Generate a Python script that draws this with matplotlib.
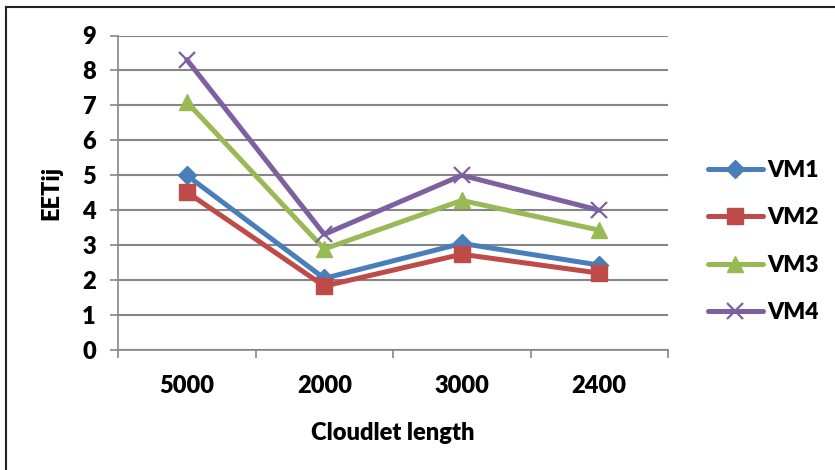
import numpy as np
import matplotlib.pyplot as plt
from matplotlib.lines import Line2D

plt.rcParams['font.family'] = ['Lato', 'DejaVu Sans']
plt.rcParams['font.weight'] = 'heavy'

# Cloudlet lengths and EETij per VM
cloudlets = ["5000", "2000", "3000", "2400"]
vm1 = [5.0, 2.05, 3.05, 2.43]
vm2 = [4.52, 1.83, 2.74, 2.2]
vm3 = [7.1, 2.89, 4.28, 3.43]
vm4 = [8.31, 3.31, 5.0, 4.0]

series = [
    ("VM1", vm1, "#4A7EBB", "D", 9),
    ("VM2", vm2, "#BE4B48", "s", 11),
    ("VM3", vm3, "#98B954", "^", 12),
    ("VM4", vm4, "#7D60A0", "x", 12),
]

fig = plt.figure(figsize=(8.35, 4.7), dpi=100)
ax = fig.add_axes([118 / 835, 1 - 350 / 470, 550 / 835, 314.5 / 470])

x = np.arange(len(cloudlets))
for name, vals, col, mk, ms in series:
    if mk == "x":
        ax.plot(x, vals, color=col, lw=3.6, marker=mk, ms=ms, mew=1.6,
                label=name, solid_capstyle="round")
    else:
        ax.plot(x, vals, color=col, lw=3.6, marker=mk, ms=ms, mec=col,
                label=name, solid_capstyle="round")

ax.set_ylim(0, 9)
ax.set_yticks(range(10))
ax.set_xlim(-0.5, len(cloudlets) - 0.5)
ax.set_xticks(np.arange(-0.5, len(cloudlets), 1.0))
ax.set_xticklabels([])
ax.set_xticks(x, minor=True)
ax.set_xticklabels(cloudlets, minor=True)
ax.tick_params(axis="x", which="minor", length=0, pad=18, labelsize=17)
ax.tick_params(axis="x", which="major", length=6, color="#868686", width=1.2)
ax.tick_params(axis="y", length=6, color="#868686", width=1.2, labelsize=17, pad=10)

ax.grid(axis="y", color="#868686", lw=1.5)
ax.set_axisbelow(True)
for s in ["top", "right"]:
    ax.spines[s].set_visible(False)
for s in ["left", "bottom"]:
    ax.spines[s].set_color("#868686")
    ax.spines[s].set_linewidth(1.2)

ax.set_xlabel("Cloudlet length", fontsize=17, fontweight="heavy", labelpad=18)
ax.set_ylabel("EETij", fontsize=17, fontweight="heavy", labelpad=14)

ax.legend(loc="center left", bbox_to_anchor=(1.035, 0.345), frameon=False,
          fontsize=16.5, handlelength=2.4, labelspacing=1.15, handletextpad=0.2)

# chart border
fig.add_artist(Line2D([6 / 835, 1], [1 - 7 / 470, 1 - 7 / 470], color="#222222", lw=1.5))
fig.add_artist(Line2D([6 / 835, 6 / 835], [0, 1 - 7 / 470], color="#222222", lw=1.5))

fig.savefig("out.png", dpi=100)
